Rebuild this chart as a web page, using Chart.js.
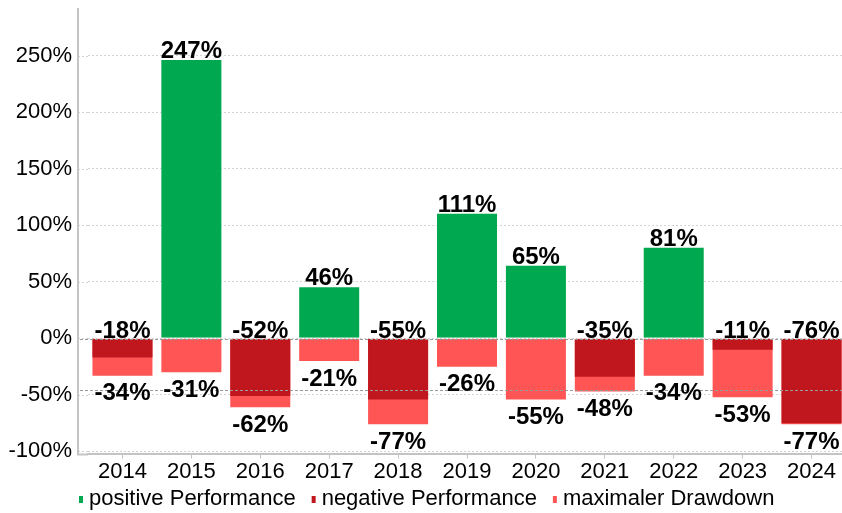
<!DOCTYPE html>
<html>
<head>
<meta charset="utf-8">
<script src="https://cdn.jsdelivr.net/npm/chart.js@4.4.1/dist/chart.umd.min.js"></script>
<style>
    html, body { margin: 0; padding: 0; background: #fff; overflow: hidden; }
    #chart-wrap { width: 846px; height: 513px; }
</style>
</head>
<body>
<div id="chart-wrap"><canvas id="chart-canvas"></canvas></div>
<script>
// data
const years = ['2014', '2015', '2016', '2017', '2018', '2019', '2020', '2021', '2022', '2023', '2024'];
const positivePerformance = [null, 247, null, 46, null, 111, 65, null, 81, null, null];
const negativePerformance = [-18, null, -52, null, -55, null, null, -35, null, -11, -76];
const maxDrawdown = [-34, -31, -62, -21, -77, -26, -55, -48, -34, -53, -77];
const seriesNames = ['positive Performance', 'negative Performance', 'maximaler Drawdown'];
const seriesColors = ['#00a84f', '#c0161d', '#ff5555'];
const seriesBorders = ['rgba(255,255,255,0.35)', 'rgba(255,255,255,0)', 'rgba(255,255,255,0.35)'];
// dashed reference lines drawn over the bars
const referenceLines = [-1, -46];

const axisGap = 10;
const gridColor = '#d4d4d4';
const axisColor = '#c4c4c4';
const fontFamily = '"Liberation Sans", Arial, sans-serif';

Chart.defaults.font.family = fontFamily;
Chart.defaults.font.size = 22;
Chart.defaults.color = '#000';

// y axis line sits a little left of the first bar, like in the original
const axisDecor = {
    id: 'axisDecor',
    beforeDatasetsDraw(chart) {
        const { ctx, chartArea, scales } = chart;
        const x0 = chartArea.left - axisGap;
        ctx.save();
        ctx.strokeStyle = gridColor;
        ctx.lineWidth = 1;
        ctx.setLineDash([2, 2]);
        scales.y.ticks.forEach(t => {
            const y = Math.round(scales.y.getPixelForValue(t.value)) + 0.5;
            ctx.beginPath();
            ctx.moveTo(x0, y);
            ctx.lineTo(chartArea.left, y);
            ctx.stroke();
        });
        ctx.setLineDash([]);
        ctx.strokeStyle = axisColor;
        ctx.lineWidth = 2;
        ctx.beginPath();
        ctx.moveTo(x0, chartArea.top);
        ctx.lineTo(x0, chartArea.bottom + 1);
        ctx.lineTo(chartArea.left, chartArea.bottom + 1);
        ctx.stroke();
        ctx.restore();
    },
    afterDatasetsDraw(chart) {
        const { ctx, chartArea, scales } = chart;
        ctx.save();
        ctx.strokeStyle = '#9a9a9a';
        ctx.lineWidth = 1.2;
        ctx.setLineDash([3, 2]);
        referenceLines.forEach(v => {
            const y = Math.round(scales.y.getPixelForValue(v)) + 0.5;
            ctx.beginPath();
            ctx.moveTo(chartArea.left - axisGap + 2, y);
            ctx.lineTo(chartArea.right, y);
            ctx.stroke();
        });
        ctx.restore();
    }
};

// value labels: positive above bar, negative performance above zero, drawdown below bar
const valueLabels = {
    id: 'valueLabels',
    afterDatasetsDraw(chart) {
        const ctx = chart.ctx;
        ctx.save();
        ctx.font = 'bold 24px ' + fontFamily;
        ctx.fillStyle = '#000';
        ctx.textAlign = 'center';
        chart.data.datasets.forEach((ds, i) => {
            const meta = chart.getDatasetMeta(i);
            meta.data.forEach((bar, j) => {
                const v = ds.data[j];
                if (v === null) return;
                const txt = v + '%';
                if (i === 2) {
                    ctx.textBaseline = 'top';
                    ctx.fillText(txt, bar.x, Math.max(bar.y, bar.base) + 5);
                } else {
                    ctx.textBaseline = 'alphabetic';
                    ctx.fillText(txt, bar.x, Math.min(bar.y, bar.base) - 1);
                }
            });
        });
        ctx.restore();
    }
};

// legend with narrow markers and a tight marker/text gap
const bottomLegend = {
    id: 'bottomLegend',
    afterDraw(chart) {
        const { ctx, chartArea } = chart;
        let x = chartArea.left - axisGap + 1;
        const baseline = 505;
        ctx.save();
        ctx.font = '22px ' + fontFamily;
        ctx.textAlign = 'left';
        ctx.textBaseline = 'alphabetic';
        chart.data.datasets.forEach((ds, i) => {
            ctx.fillStyle = ds.backgroundColor;
            ctx.fillRect(x, baseline - 9, 4, 7);
            x += 10;
            ctx.fillStyle = '#000';
            ctx.fillText(ds.label, x, baseline);
            x += ctx.measureText(ds.label).width + 16;
        });
        ctx.restore();
    }
};

const datasets = [positivePerformance, negativePerformance, maxDrawdown].map((values, i) => ({
    label: seriesNames[i],
    data: values,
    backgroundColor: seriesColors[i],
    borderColor: seriesBorders[i],
    borderWidth: 1,
    grouped: false,
    barPercentage: 0.9,
    categoryPercentage: 1
}));

const chart = new Chart(document.getElementById('chart-canvas'), {
    type: 'bar',
    data: { labels: years, datasets: datasets },
    plugins: [axisDecor, valueLabels, bottomLegend],
    options: {
        responsive: true,
        maintainAspectRatio: false,
        animation: false,
        layout: { padding: { top: 8, left: 0, right: 0, bottom: 28 } },
        plugins: {
            tooltip: { enabled: false },
            legend: { display: false }
        },
        scales: {
            x: {
                offset: true,
                grid: {
                    offset: false,
                    drawOnChartArea: false,
                    drawTicks: true,
                    tickLength: 5,
                    color: axisColor
                },
                border: { display: true, color: axisColor, width: 2 },
                ticks: { padding: 0, color: '#000', font: { size: 22 } }
            },
            y: {
                min: -102,
                max: 292,
                afterFit(scale) {
                    scale.width = 88;
                    scale.paddingTop = 0;
                    scale.paddingBottom = 0;
                },
                grid: {
                    color: gridColor,
                    lineWidth: 1,
                    drawTicks: false
                },
                border: { display: false, dash: [2, 2] },
                ticks: {
                    stepSize: 50,
                    includeBounds: false,
                    padding: 16,
                    color: '#000',
                    font: { size: 22 },
                    callback: v => v + '%'
                }
            }
        }
    }
});
</script>
</body>
</html>
